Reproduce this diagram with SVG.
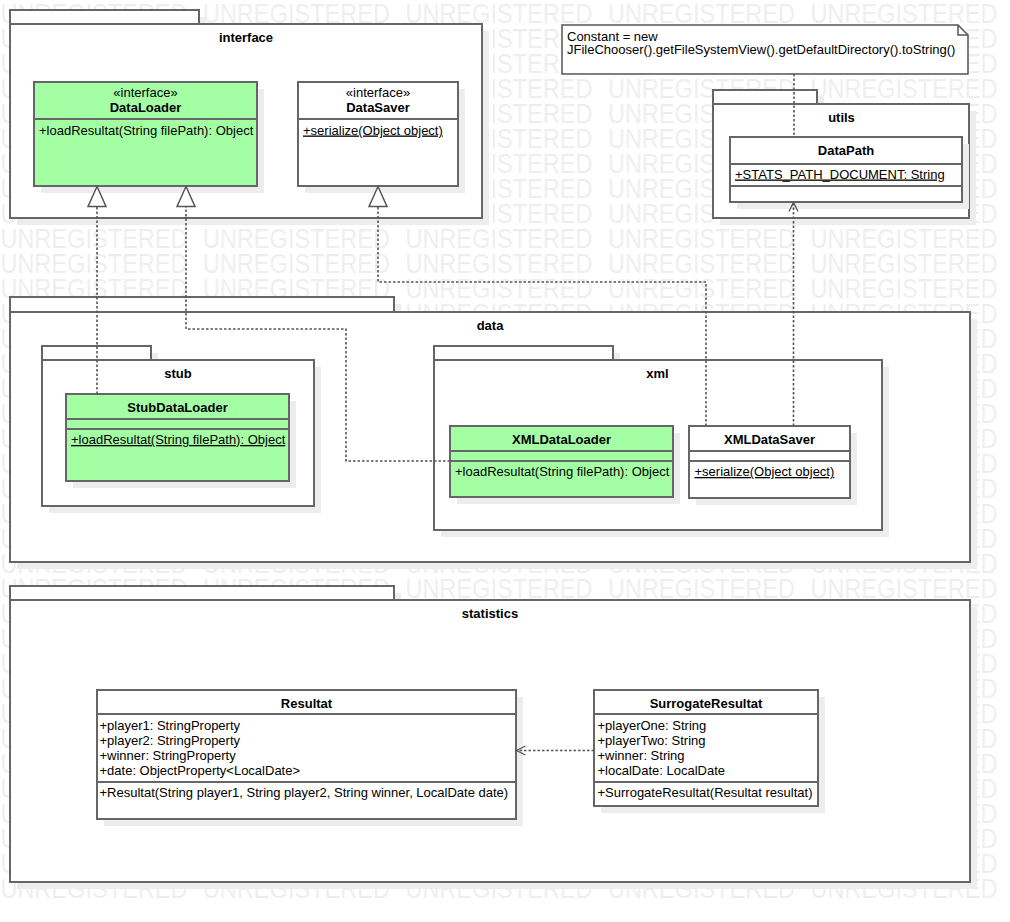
<svg xmlns="http://www.w3.org/2000/svg" width="1010" height="922" viewBox="0 0 1010 922">
<defs>
<style>
.t{font-family:'Liberation Sans',Arial,sans-serif;font-size:13px;fill:#000}
.b{font-weight:bold}
.m{text-anchor:middle}
.u{text-decoration:underline}
.pk{fill:#fff;stroke:#666;stroke-width:2}
.sh{fill:#ededed}
.cl{fill:#fff;stroke:#666;stroke-width:2}
.g{fill:#a4ffa4}
.dv{stroke:#666;stroke-width:2;fill:none}
.dash{fill:none;stroke:#555;stroke-width:1.6;stroke-dasharray:2.5 2}
.wm{font-family:'Liberation Sans',Arial,sans-serif;font-size:28px;fill:#eeeeee}
</style>
<pattern id="wmp" patternUnits="userSpaceOnUse" x="0" y="0" width="202.5" height="25">
<text class="wm" x="0.5" y="23" textLength="187" lengthAdjust="spacingAndGlyphs">UNREGISTERED</text>
</pattern>
<marker id="tri" markerUnits="userSpaceOnUse" markerWidth="24" markerHeight="22" refX="21" refY="10" orient="auto" viewBox="0 0 24 22">
<path d="M1,1 L21,10 L1,19 Z" fill="#fff" stroke="#555" stroke-width="1.5"/>
</marker>
<marker id="open" markerUnits="userSpaceOnUse" markerWidth="12" markerHeight="12" refX="10" refY="6" orient="auto" viewBox="0 0 12 12">
<path d="M1,1.5 L10,6 L1,10.5" fill="none" stroke="#555" stroke-width="1.3"/>
</marker>
</defs>

<rect id="watermark" x="0" y="0" width="1010" height="903" fill="url(#wmp)"/>

<g id="pkg-interface">
<rect class="sh" x="17" y="17" width="189" height="14"/>
<rect class="sh" x="17" y="31" width="472" height="194"/>
<rect class="pk" x="10" y="10" width="189" height="14"/>
<rect class="pk" x="10" y="24" width="472" height="194"/>
<text class="t b m" x="246" y="42">interface</text>
</g>

<g id="pkg-utils">
<rect class="sh" x="720" y="97" width="104" height="14"/>
<rect class="sh" x="720" y="111" width="256" height="114"/>
<rect class="pk" x="713" y="90" width="104" height="14"/>
<rect class="pk" x="713" y="104" width="256" height="114"/>
<text class="t b m" x="841.5" y="122">utils</text>
</g>

<g id="pkg-data">
<rect class="sh" x="17" y="304" width="384" height="15"/>
<rect class="sh" x="17" y="319" width="960" height="250"/>
<rect class="pk" x="10" y="297" width="384" height="15"/>
<rect class="pk" x="10" y="312" width="960" height="250"/>
<text class="t b m" x="490" y="330">data</text>
</g>

<g id="pkg-stub">
<rect class="sh" x="49" y="353" width="109" height="14"/>
<rect class="sh" x="49" y="367" width="272" height="146"/>
<rect class="pk" x="42" y="346" width="109" height="14"/>
<rect class="pk" x="42" y="360" width="272" height="146"/>
<text class="t b m" x="178" y="378">stub</text>
</g>

<g id="pkg-xml">
<rect class="sh" x="441" y="353" width="179" height="14"/>
<rect class="sh" x="441" y="367" width="448" height="170"/>
<rect class="pk" x="434" y="346" width="179" height="14"/>
<rect class="pk" x="434" y="360" width="448" height="170"/>
<text class="t b m" x="657.5" y="378">xml</text>
</g>

<g id="pkg-statistics">
<rect class="sh" x="17" y="593" width="384" height="14"/>
<rect class="sh" x="17" y="607" width="960" height="282"/>
<rect class="pk" x="10" y="586" width="384" height="14"/>
<rect class="pk" x="10" y="600" width="960" height="282"/>
<text class="t b m" x="490" y="618">statistics</text>
</g>

<g id="note">
<path d="M562,25 H958 L968,35 V74 H562 Z" fill="#fff" stroke="#555" stroke-width="1.5"/>
<path d="M958,25 V35 H968" fill="none" stroke="#555" stroke-width="1.5"/>
<text class="t" x="567" y="40.5">Constant = new</text>
<text class="t" x="567" y="54">JFileChooser().getFileSystemView().getDefaultDirectory().toString()</text>
</g>

<g id="DataLoader">
<rect class="sh" x="41" y="89" width="223" height="104"/>
<rect class="cl g" x="34" y="82" width="223" height="104"/>
<line class="dv" x1="34" y1="119" x2="257" y2="119"/>
<text class="t m" x="145.5" y="97">«interface»</text>
<text class="t b m" x="145.5" y="112">DataLoader</text>
<text class="t" x="39" y="134.5">+loadResultat(String filePath): Object</text>
</g>

<g id="DataSaver">
<rect class="sh" x="305" y="89" width="160" height="104"/>
<rect class="cl" x="298" y="82" width="160" height="104"/>
<line class="dv" x1="298" y1="119" x2="458" y2="119"/>
<text class="t m" x="378" y="97">«interface»</text>
<text class="t b m" x="378" y="112">DataSaver</text>
<text class="t u" x="303" y="134.5">+serialize(Object object)</text>
</g>

<g id="DataPath">
<rect class="sh" x="737" y="144" width="232" height="65"/>
<rect class="cl" x="730" y="137" width="232" height="65"/>
<line class="dv" x1="730" y1="164" x2="962" y2="164"/>
<line class="dv" x1="730" y1="186" x2="962" y2="186"/>
<text class="t b m" x="846" y="155">DataPath</text>
<text class="t u" x="735" y="178.5">+STATS_PATH_DOCUMENT: String</text>
</g>

<g id="StubDataLoader">
<rect class="sh" x="73" y="401" width="223" height="87"/>
<rect class="cl g" x="66" y="394" width="223" height="87"/>
<line class="dv" x1="66" y1="419" x2="289" y2="419"/>
<line class="dv" x1="66" y1="429" x2="289" y2="429"/>
<text class="t b m" x="177.5" y="412">StubDataLoader</text>
<text class="t u" x="71" y="444">+loadResultat(String filePath): Object</text>
</g>

<g id="XMLDataLoader">
<rect class="sh" x="457" y="433" width="223" height="71"/>
<rect class="cl g" x="450" y="426" width="223" height="71"/>
<line class="dv" x1="450" y1="451" x2="673" y2="451"/>
<line class="dv" x1="450" y1="461" x2="673" y2="461"/>
<text class="t b m" x="561.5" y="444">XMLDataLoader</text>
<text class="t" x="455" y="476">+loadResultat(String filePath): Object</text>
</g>

<g id="XMLDataSaver">
<rect class="sh" x="696" y="433" width="161" height="72"/>
<rect class="cl" x="689" y="426" width="161" height="72"/>
<line class="dv" x1="689" y1="451" x2="850" y2="451"/>
<line class="dv" x1="689" y1="461" x2="850" y2="461"/>
<text class="t b m" x="769.5" y="444">XMLDataSaver</text>
<text class="t u" x="694.5" y="476">+serialize(Object object)</text>
</g>

<g id="Resultat">
<rect class="sh" x="104" y="697" width="419" height="129"/>
<rect class="cl" x="97" y="690" width="419" height="129"/>
<line class="dv" x1="97" y1="714" x2="516" y2="714"/>
<line class="dv" x1="97" y1="782" x2="516" y2="782"/>
<text class="t b m" x="306.5" y="708">Resultat</text>
<text class="t" x="99.5" y="729.5">+player1: StringProperty</text>
<text class="t" x="99.5" y="744.5">+player2: StringProperty</text>
<text class="t" x="99.5" y="759.5">+winner: StringProperty</text>
<text class="t" x="99.5" y="774.5">+date: ObjectProperty&lt;LocalDate&gt;</text>
<text class="t" x="99.5" y="797">+Resultat(String player1, String player2, String winner, LocalDate date)</text>
</g>

<g id="SurrogateResultat">
<rect class="sh" x="601" y="697" width="224" height="116"/>
<rect class="cl" x="594" y="690" width="224" height="116"/>
<line class="dv" x1="594" y1="714" x2="818" y2="714"/>
<line class="dv" x1="594" y1="782" x2="818" y2="782"/>
<text class="t b m" x="706" y="708">SurrogateResultat</text>
<text class="t" x="597.5" y="729.5">+playerOne: String</text>
<text class="t" x="597.5" y="744.5">+playerTwo: String</text>
<text class="t" x="597.5" y="759.5">+winner: String</text>
<text class="t" x="597.5" y="774.5">+localDate: LocalDate</text>
<text class="t" x="597.5" y="797">+SurrogateResultat(Resultat resultat)</text>
</g>

<g id="connectors">
<path class="dash" d="M97,394 V186.5" marker-end="url(#tri)"/>
<path class="dash" d="M450,461 H346 V329 H186 V186.5" marker-end="url(#tri)"/>
<path class="dash" d="M706,426 V282 H378 V186.5" marker-end="url(#tri)"/>
<path class="dash" d="M793.5,426 V202.5" marker-end="url(#open)"/>
<path class="dash" d="M794,74 V137"/>
<path class="dash" d="M594,750.5 H516.5" marker-end="url(#open)"/>
</g>
</svg>
